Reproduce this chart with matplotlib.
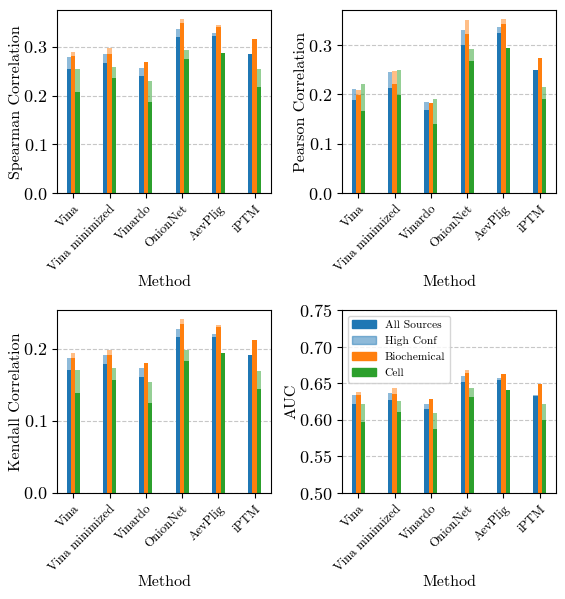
import matplotlib
matplotlib.use("Agg")
import matplotlib.pyplot as plt
import numpy as np
from matplotlib.patches import Patch

plt.rcParams['font.family'] = 'serif'
plt.rcParams['font.serif'] = ['cmr10', 'DejaVu Serif']
plt.rcParams['axes.formatter.use_mathtext'] = True
plt.rcParams['mathtext.fontset'] = 'cm'
plt.rcParams['axes.unicode_minus'] = False

methods = ["Vina", "Vina minimized", "Vinardo", "OnionNet", "AevPlig", "iPTM"]

# Spearman
spearman_all = [0.255, 0.267, 0.240, 0.320, 0.322, 0.285]
spearman_all_hc = [0.279, 0.285, 0.257, 0.337, 0.328, 0.280]
spearman_bio = [0.281, 0.285, 0.268, 0.348, 0.340, 0.316]
spearman_bio_hc = [0.289, 0.298, 0.262, 0.357, 0.344, 0.310]
spearman_cell = [0.208, 0.235, 0.186, 0.274, 0.288, 0.218]
spearman_cell_hc = [0.254, 0.258, 0.229, 0.294, 0.282, 0.254]

# Pearson
pearson_all = [0.188, 0.213, 0.168, 0.300, 0.325, 0.249]
pearson_all_hc = [0.210, 0.245, 0.184, 0.330, 0.336, 0.244]
pearson_bio = [0.199, 0.222, 0.182, 0.323, 0.342, 0.274]
pearson_bio_hc = [0.208, 0.247, 0.178, 0.350, 0.353, 0.268]
pearson_cell = [0.166, 0.198, 0.141, 0.267, 0.295, 0.190]
pearson_cell_hc = [0.222, 0.249, 0.191, 0.293, 0.290, 0.216]

# Kendall
kendall_all = [0.171, 0.179, 0.161, 0.216, 0.216, 0.191]
kendall_all_hc = [0.187, 0.192, 0.173, 0.228, 0.221, 0.188]
kendall_bio = [0.1875, 0.192, 0.180, 0.235, 0.230, 0.213]
kendall_bio_hc = [0.194, 0.199, 0.176, 0.242, 0.233, 0.209]
kendall_cell = [0.139, 0.157, 0.125, 0.184, 0.194, 0.145]
kendall_cell_hc = [0.171, 0.174, 0.154, 0.198, 0.190, 0.169]

# AUC
auc_all = [0.621, 0.627, 0.615, 0.652, 0.654, 0.633]
auc_all_hc = [0.6335, 0.637, 0.622, 0.660, 0.657, 0.634]
auc_bio = [0.634, 0.635, 0.628, 0.664, 0.662, 0.649]
auc_bio_hc = [0.638, 0.643, 0.625, 0.668, 0.660, 0.646]
auc_cell = [0.597, 0.611, 0.587, 0.631, 0.641, 0.600]
auc_cell_hc = [0.622, 0.626, 0.609, 0.643, 0.638, 0.622]

panels = [
    ("Spearman Correlation", spearman_all, spearman_all_hc, spearman_bio, spearman_bio_hc, spearman_cell, spearman_cell_hc),
    ("Pearson Correlation", pearson_all, pearson_all_hc, pearson_bio, pearson_bio_hc, pearson_cell, pearson_cell_hc),
    ("Kendall Correlation", kendall_all, kendall_all_hc, kendall_bio, kendall_bio_hc, kendall_cell, kendall_cell_hc),
    ("AUC", auc_all, auc_all_hc, auc_bio, auc_bio_hc, auc_cell, auc_cell_hc),
]

c_blue = '#1f77b4'
c_orange = '#ff7f0e'
c_green = '#2ca02c'

fig, axes = plt.subplots(2, 2, figsize=(5.65, 5.99), dpi=100)
fig.subplots_adjust(left=0.101, right=0.984, top=0.983, bottom=0.177, wspace=0.333, hspace=0.639)

x = np.arange(len(methods))
w = 0.12
for ax, (ylabel, a, ahc, b, bhc, c, chc) in zip(axes.flat, panels):
    ax.set_axisbelow(True)
    ax.grid(axis='y', linestyle='--', color='#b0b0b0', alpha=0.7, linewidth=0.8)
    for off, vals, hc, col in [(-w, a, ahc, c_blue), (0, b, bhc, c_orange), (w, c, chc, c_green)]:
        ax.bar(x + off, hc, width=w, color=col, alpha=0.5, linewidth=0)
        ax.bar(x + off, vals, width=w, color=col, linewidth=0)
    ax.set_xticks(x)
    ax.set_xticklabels(methods, rotation=45, ha='right', rotation_mode='anchor', fontsize=9.3)
    ax.set_ylabel(ylabel, fontsize=11.5, labelpad=0)
    ax.set_xlabel("Method", fontsize=11.5, labelpad=1)
    ax.tick_params(axis='y', labelsize=13)
    if ylabel == "AUC":
        ax.set_ylim(0.5, 0.75)
        ax.set_yticks([0.50, 0.55, 0.60, 0.65, 0.70, 0.75])
        handles = [Patch(color=c_blue), Patch(color=c_blue, alpha=0.5),
                   Patch(color=c_orange), Patch(color=c_green)]
        ax.legend(handles, ["All Sources", "High Conf", "Biochemical", "Cell"],
                  loc='upper left', fontsize=8.3)
    elif ylabel == "Kendall Correlation":
        ax.set_yticks([0.0, 0.1, 0.2])
    else:
        ax.set_yticks([0.0, 0.1, 0.2, 0.3])

fig.savefig("out.png", dpi=100)
